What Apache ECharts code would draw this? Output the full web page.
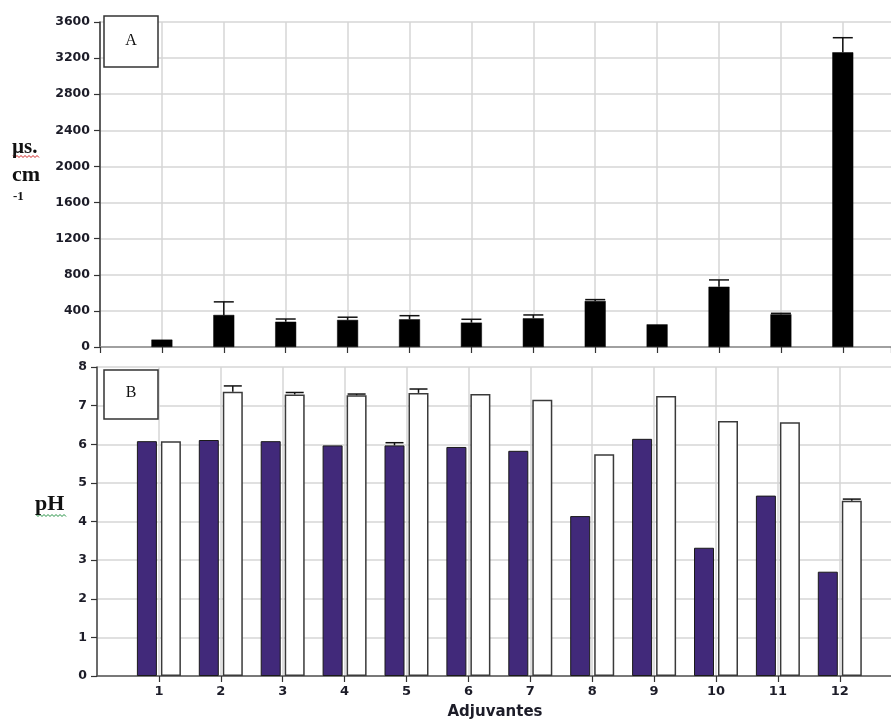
<!DOCTYPE html>
<html><head><meta charset="utf-8">
<script src="https://cdn.jsdelivr.net/npm/echarts@6/dist/echarts.min.js"></script>
<style>html,body{margin:0;padding:0;background:#fff}#c{width:891px;height:721px}</style>
</head><body><div id="c"></div>
<script>
// ---- data ----
const categories = ['1','2','3','4','5','6','7','8','9','10','11','12'];
// Panel A: conductivity (µs.cm-1)
const conductivity    = [82, 355, 280, 300, 307, 270, 318, 510, 251, 668, 362, 3264];
const conductivityErr = [0, 145, 30, 30, 40, 37, 37, 15, 0, 75, 11, 162];
// Panel B: pH
const phFilled      = [6.08, 6.11, 6.08, 5.97, 5.97, 5.93, 5.83, 4.14, 6.14, 3.32, 4.67, 2.70];
const phFilledErr   = [0, 0, 0, 0, 0.07, 0, 0, 0, 0, 0, 0, 0];
const phOpen        = [6.08, 7.36, 7.29, 7.27, 7.33, 7.30, 7.15, 5.74, 7.25, 6.60, 6.57, 4.54];
const phOpenErr     = [0, 0.15, 0.05, 0.03, 0.10, 0, 0, 0, 0, 0, 0, 0.04];
const yTicksA = {min: 0, max: 3600, step: 400};
const yTicksB = {min: 0, max: 8, step: 1};

// ---- build ----
// categories placed at positions 1..12 on a numeric x axis starting at 0
const pos = categories.map((c, i) => i + 1);
const xs = vals => vals.map((v, i) => [pos[i], v]);
const errData = (vals, errs) => vals.map((v, i) => [pos[i], v, v + errs[i], errs[i]]).filter(d => d[3] > 0);
const catLabel = v => { const i = pos.indexOf(v); return i >= 0 ? categories[i] : ''; };

const labelFont = {fontFamily: 'DejaVu Sans', fontWeight: 'bold', fontSize: 12.5, color: '#1c1c28'};
const gridLine = {show: true, lineStyle: {color: '#d6d6d6', width: 1.5}};
const STEP = 61.9;
const xMaxA = (891 - 100) / STEP;
const xMaxB = (891 - 97) / STEP;

function errRender(offset, capW) {
  return function (params, api) {
    const x = api.value(0);
    const lo = api.coord([x, api.value(1)]);
    const hi = api.coord([x, api.value(2)]);
    const cx = lo[0] + offset;
    return {type: 'group', children: [
      {type: 'line', shape: {x1: cx, y1: lo[1], x2: cx, y2: hi[1]}, style: {stroke: '#111', lineWidth: 1.5}},
      {type: 'line', shape: {x1: cx - capW / 2, y1: hi[1], x2: cx + capW / 2, y2: hi[1]}, style: {stroke: '#111', lineWidth: 1.5}}
    ]};
  };
}

function squiggle(x0, x1, y, color) {
  const pts = [];
  for (let x = x0, k = 0; x <= x1; x += 2, k++) pts.push([x, y + (k % 2 ? 1.5 : -0.5)]);
  return {type: 'polyline', shape: {points: pts}, style: {stroke: color, lineWidth: 1, fill: null}, z: 10};
}

const xSplit = {show: true, showMaxLine: false, lineStyle: {color: '#d6d6d6', width: 1.5}};

const chart = echarts.init(document.getElementById('c'), null, {renderer: 'canvas'});
chart.setOption({
  animation: false,
  backgroundColor: '#fff',
  grid: [
    {left: 100, top: 22, right: 0, height: 325},
    {left: 97, top: 367, right: 0, height: 309}
  ],
  xAxis: [
    {gridIndex: 0, type: 'value', min: 0, max: xMaxA, interval: 1,
     axisLine: {lineStyle: {color: '#8a8a8a', width: 1.5}},
     axisTick: {show: true, length: 6, lineStyle: {color: '#333', width: 1.2}},
     axisLabel: {show: false}, splitLine: xSplit},
    {gridIndex: 1, type: 'value', min: 0, max: xMaxB, interval: 1,
     axisLine: {lineStyle: {color: '#555', width: 1.5}},
     axisTick: {show: true, length: 6, lineStyle: {color: '#333', width: 1.2}},
     axisLabel: Object.assign({margin: 9, formatter: catLabel, showMinLabel: false, showMaxLabel: false}, labelFont, {fontSize: 13}),
     splitLine: xSplit}
  ],
  yAxis: [
    {gridIndex: 0, type: 'value', min: yTicksA.min, max: yTicksA.max, interval: yTicksA.step,
     axisLine: {show: true, lineStyle: {color: '#333', width: 1.5}},
     axisTick: {show: true, length: 6, lineStyle: {color: '#333', width: 1.2}},
     axisLabel: Object.assign({margin: 10, formatter: v => String(v)}, labelFont), splitLine: gridLine},
    {gridIndex: 1, type: 'value', min: yTicksB.min, max: yTicksB.max, interval: yTicksB.step,
     axisLine: {show: true, lineStyle: {color: '#444', width: 1.5}},
     axisTick: {show: true, length: 6, lineStyle: {color: '#333', width: 1.2}},
     axisLabel: Object.assign({margin: 10, formatter: v => String(v)}, labelFont), splitLine: gridLine}
  ],
  series: [
    {type: 'bar', xAxisIndex: 0, yAxisIndex: 0, data: xs(conductivity), barWidth: 21,
     itemStyle: {color: '#000', borderColor: '#000', borderWidth: 0.5}, z: 3},
    {type: 'custom', xAxisIndex: 0, yAxisIndex: 0, data: errData(conductivity, conductivityErr),
     renderItem: errRender(0, 20), clip: false, z: 4},
    {type: 'bar', xAxisIndex: 1, yAxisIndex: 1, data: xs(phFilled), barWidth: 20, barGap: '20%',
     itemStyle: {color: '#41297a', borderColor: '#1a1a1a', borderWidth: 1}, z: 3},
    {type: 'bar', xAxisIndex: 1, yAxisIndex: 1, data: xs(phOpen), barWidth: 20, barGap: '20%',
     itemStyle: {color: '#fff', borderColor: '#3a3a3a', borderWidth: 1.5}, z: 3},
    {type: 'custom', xAxisIndex: 1, yAxisIndex: 1, data: errData(phFilled, phFilledErr),
     renderItem: errRender(-12, 18), clip: false, z: 4},
    {type: 'custom', xAxisIndex: 1, yAxisIndex: 1, data: errData(phOpen, phOpenErr),
     renderItem: errRender(12, 18), clip: false, z: 4}
  ],
  graphic: [
    {type: 'rect', shape: {x: 104, y: 16, width: 54, height: 51}, style: {fill: '#fff', stroke: '#333', lineWidth: 1.5}, z: 20},
    {type: 'text', x: 131, y: 41, style: {text: 'A', font: '16px "Liberation Serif"', fill: '#111', textAlign: 'center', textVerticalAlign: 'middle'}, z: 21},
    {type: 'rect', shape: {x: 104, y: 370, width: 54, height: 49}, style: {fill: '#fff', stroke: '#333', lineWidth: 1.5}, z: 20},
    {type: 'text', x: 131, y: 393, style: {text: 'B', font: '16px "Liberation Serif"', fill: '#111', textAlign: 'center', textVerticalAlign: 'middle'}, z: 21},
    {type: 'text', x: 12, y: 148, style: {text: 'µs.', font: 'bold 21px "Liberation Serif"', fill: '#111', textVerticalAlign: 'middle'}, z: 21},
    {type: 'text', x: 12, y: 175, style: {text: 'cm', font: 'bold 22px "Liberation Serif"', fill: '#111', textVerticalAlign: 'middle'}, z: 21},
    {type: 'text', x: 13, y: 197, style: {text: '-1', font: 'bold 13px "Liberation Serif"', fill: '#111', textVerticalAlign: 'middle'}, z: 21},
    {type: 'text', x: 35, y: 504, style: {text: 'pH', font: 'bold 22px "Liberation Serif"', fill: '#111', textVerticalAlign: 'middle'}, z: 21},
    squiggle(13, 39, 156, '#d02020'),
    squiggle(36, 67, 515, '#209040'),
    {type: 'text', x: 495, y: 712, style: {text: 'Adjuvantes', font: 'bold 15px "DejaVu Sans"', fill: '#1c1c28', textAlign: 'center', textVerticalAlign: 'middle'}, z: 21}
  ]
});
</script>
</body></html>
